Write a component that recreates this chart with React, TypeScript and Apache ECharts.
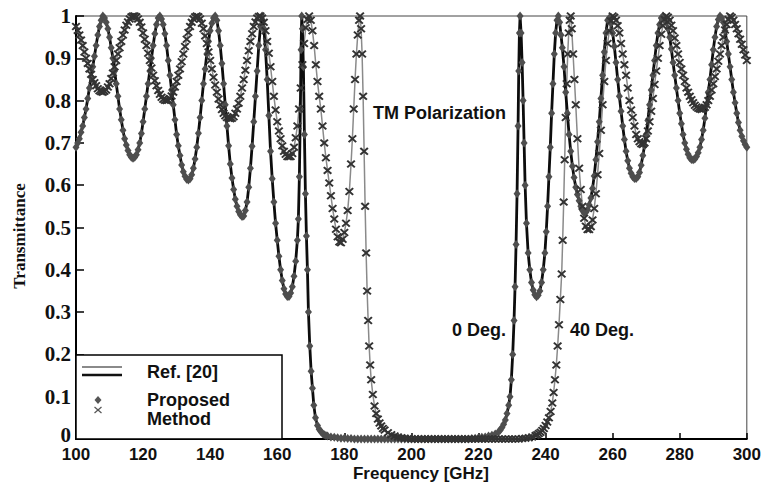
import { useEffect, useRef } from "react";
import * as echarts from "echarts";

// Transmittance vs frequency, TM polarization, normal incidence (0 deg)
const curve0Deg: [number, number][] = [
  [100, 0.69], [100.5, 0.7], [101, 0.71], [101.5, 0.725], [102, 0.74], [102.5, 0.76], [103, 0.78], [103.5, 0.805],
  [104, 0.83], [104.5, 0.855], [105, 0.88], [105.5, 0.905], [106, 0.93], [106.5, 0.955], [107, 0.975], [107.5, 0.99],
  [108, 1.0], [108.5, 0.995], [109, 0.985], [109.5, 0.97], [110, 0.95], [110.5, 0.925], [111, 0.9], [111.5, 0.87],
  [112, 0.84], [112.5, 0.81], [113, 0.78], [113.5, 0.755], [114, 0.73], [114.5, 0.71], [115, 0.695], [115.5, 0.682],
  [116, 0.672], [116.5, 0.666], [117, 0.664], [117.5, 0.666], [118, 0.672], [118.5, 0.684], [119, 0.7], [119.5, 0.722],
  [120, 0.75], [120.5, 0.78], [121, 0.81], [121.5, 0.84], [122, 0.87], [122.5, 0.9], [123, 0.93], [123.5, 0.958],
  [124, 0.98], [124.5, 0.995], [125, 1.0], [125.5, 0.993], [126, 0.98], [126.5, 0.958], [127, 0.93], [127.5, 0.895],
  [128, 0.86], [128.5, 0.825], [129, 0.79], [129.5, 0.755], [130, 0.72], [130.5, 0.693], [131, 0.67], [131.5, 0.648],
  [132, 0.632], [132.5, 0.621], [133, 0.614], [133.5, 0.612], [134, 0.615], [134.5, 0.625], [135, 0.64], [135.5, 0.662],
  [136, 0.69], [136.5, 0.723], [137, 0.76], [137.5, 0.8], [138, 0.84], [138.5, 0.875], [139, 0.91], [139.5, 0.94],
  [140, 0.965], [140.5, 0.983], [141, 0.995], [141.5, 1.0], [142, 0.99], [142.5, 0.965], [143, 0.93], [143.5, 0.888],
  [144, 0.84], [144.5, 0.79], [145, 0.74], [145.5, 0.693], [146, 0.65], [146.5, 0.617], [147, 0.59], [147.5, 0.567],
  [148, 0.55], [148.5, 0.538], [149, 0.53], [149.5, 0.526], [150, 0.527], [150.5, 0.54], [151, 0.56], [151.5, 0.595],
  [152, 0.64], [152.5, 0.692], [153, 0.75], [153.5, 0.81], [154, 0.87], [154.5, 0.93], [155, 0.975], [155.5, 1.0],
  [156, 0.97], [156.5, 0.92], [157, 0.85], [157.5, 0.765], [158, 0.68], [158.5, 0.615], [159, 0.56], [159.5, 0.51],
  [160, 0.47], [160.5, 0.432], [161, 0.4], [161.5, 0.375], [162, 0.355], [162.5, 0.343], [163, 0.337], [163.5, 0.337],
  [164, 0.345], [164.5, 0.36], [165, 0.385], [165.5, 0.42], [166, 0.47], [166.3, 0.52], [166.6, 0.62], [166.9, 0.78],
  [167.1, 0.92], [167.3, 1.0], [167.5, 0.97], [167.8, 0.88], [168.1, 0.72], [168.4, 0.58], [168.7, 0.48], [169, 0.4],
  [169.3, 0.3], [169.7, 0.22], [170.1, 0.16], [170.5, 0.12], [170.9, 0.08], [171.4, 0.05], [172, 0.032], [172.5, 0.023],
  [173, 0.018], [173.5, 0.013], [174, 0.01], [174.5, 0.008], [175, 0.007], [176, 0.005], [177, 0.004], [178, 0.003],
  [179, 0.002], [180, 0.002], [181, 0.001], [182, 0.001], [183, 0], [184, 0], [185, 0], [186, 0],
  [187, 0], [188, 0], [189, 0], [190, 0], [191, 0], [192, 0], [193, 0], [194, 0],
  [195, 0], [196, 0], [197, 0], [198, 0], [199, 0], [200, 0], [201, 0], [202, 0],
  [203, 0], [204, 0], [205, 0], [206, 0], [207, 0], [208, 0], [209, 0], [210, 0],
  [211, 0], [212, 0], [213, 0], [214, 0], [215, 0], [216, 0], [217, 0], [218, 0.001],
  [219, 0.002], [220, 0.003], [221, 0.004], [222, 0.005], [223, 0.007], [224, 0.009], [225, 0.012], [226, 0.017],
  [226.5, 0.021], [227, 0.027], [227.5, 0.035], [228, 0.045], [228.5, 0.06], [229, 0.08], [229.4, 0.1], [229.8, 0.14],
  [230.2, 0.2], [230.6, 0.28], [230.9, 0.36], [231.2, 0.46], [231.5, 0.58], [231.8, 0.74], [232, 0.87], [232.2, 0.96],
  [232.4, 1.0], [232.7, 0.96], [233, 0.89], [233.3, 0.8], [233.6, 0.7], [233.9, 0.6], [234.3, 0.51], [234.8, 0.44],
  [235.3, 0.4], [235.8, 0.37], [236.3, 0.352], [236.8, 0.341], [237.3, 0.336], [237.8, 0.34], [238.3, 0.35], [238.8, 0.37],
  [239.3, 0.4], [239.8, 0.44], [240.2, 0.49], [240.6, 0.55], [241, 0.62], [241.4, 0.69], [241.8, 0.77], [242.2, 0.84],
  [242.6, 0.91], [243, 0.96], [243.4, 0.99], [243.8, 1.0], [244.2, 0.985], [244.6, 0.955], [245, 0.925], [245.5, 0.88],
  [246, 0.82], [246.5, 0.77], [247, 0.72], [247.5, 0.68], [248, 0.645], [248.5, 0.618], [249, 0.595], [249.5, 0.578],
  [250, 0.563], [250.5, 0.55], [251, 0.54], [251.5, 0.535], [252, 0.536], [252.5, 0.542], [253, 0.553], [253.5, 0.57],
  [254, 0.592], [254.5, 0.622], [255, 0.66], [255.5, 0.703], [256, 0.75], [256.5, 0.805], [257, 0.86], [257.5, 0.915],
  [258, 0.96], [258.5, 0.99], [259, 0.995], [259.5, 0.983], [260, 0.96], [260.5, 0.928], [261, 0.89], [261.5, 0.85],
  [262, 0.81], [262.5, 0.775], [263, 0.74], [263.5, 0.708], [264, 0.68], [264.5, 0.658], [265, 0.64], [265.5, 0.628],
  [266, 0.62], [266.5, 0.616], [267, 0.616], [267.5, 0.62], [268, 0.63], [268.5, 0.647], [269, 0.67], [269.5, 0.693],
  [270, 0.72], [270.5, 0.753], [271, 0.79], [271.5, 0.825], [272, 0.86], [272.5, 0.895], [273, 0.93], [273.5, 0.96],
  [274, 0.98], [274.5, 0.995], [275, 1.0], [275.5, 0.995], [276, 0.985], [276.5, 0.97], [277, 0.95], [277.5, 0.922],
  [278, 0.89], [278.5, 0.86], [279, 0.83], [279.5, 0.8], [280, 0.77], [280.5, 0.745], [281, 0.72], [281.5, 0.7],
  [282, 0.685], [282.5, 0.673], [283, 0.665], [283.5, 0.661], [284, 0.66], [284.5, 0.662], [285, 0.668], [285.5, 0.677],
  [286, 0.69], [286.5, 0.708], [287, 0.73], [287.5, 0.758], [288, 0.79], [288.5, 0.82], [289, 0.85], [289.5, 0.885],
  [290, 0.92], [290.5, 0.95], [291, 0.975], [291.5, 0.992], [292, 1.0], [292.5, 0.995], [293, 0.985], [293.5, 0.965],
  [294, 0.94], [294.5, 0.91], [295, 0.88], [295.5, 0.85], [296, 0.82], [296.5, 0.795], [297, 0.77], [297.5, 0.748],
  [298, 0.73], [298.5, 0.716], [299, 0.705], [299.5, 0.696], [300, 0.69],
];

// Transmittance vs frequency, TM polarization, 40 deg incidence
const curve40Deg: [number, number][] = [
  [100, 0.975], [100.5, 0.966], [101, 0.955], [101.5, 0.943], [102, 0.93], [102.5, 0.915], [103, 0.9], [103.5, 0.888],
  [104, 0.875], [104.5, 0.862], [105, 0.85], [105.5, 0.842], [106, 0.835], [106.5, 0.828], [107, 0.823], [107.5, 0.821],
  [108, 0.82], [108.5, 0.822], [109, 0.825], [109.5, 0.832], [110, 0.84], [110.5, 0.852], [111, 0.865], [111.5, 0.88],
  [112, 0.895], [112.5, 0.91], [113, 0.925], [113.5, 0.94], [114, 0.955], [114.5, 0.967], [115, 0.978], [115.5, 0.986],
  [116, 0.993], [116.5, 0.998], [117, 1.0], [117.5, 1.0], [118, 0.998], [118.5, 0.993], [119, 0.985], [119.5, 0.974],
  [120, 0.96], [120.5, 0.945], [121, 0.93], [121.5, 0.912], [122, 0.895], [122.5, 0.877], [123, 0.86], [123.5, 0.847],
  [124, 0.835], [124.5, 0.824], [125, 0.815], [125.5, 0.808], [126, 0.803], [126.5, 0.801], [127, 0.8], [127.5, 0.801],
  [128, 0.805], [128.5, 0.811], [129, 0.82], [129.5, 0.832], [130, 0.845], [130.5, 0.86], [131, 0.875], [131.5, 0.892],
  [132, 0.91], [132.5, 0.928], [133, 0.945], [133.5, 0.961], [134, 0.975], [134.5, 0.985], [135, 0.993], [135.5, 0.998],
  [136, 1.0], [136.5, 0.998], [137, 0.993], [137.5, 0.983], [138, 0.97], [138.5, 0.953], [139, 0.935], [139.5, 0.915],
  [140, 0.895], [140.5, 0.875], [141, 0.855], [141.5, 0.837], [142, 0.82], [142.5, 0.804], [143, 0.79], [143.5, 0.779],
  [144, 0.77], [144.5, 0.764], [145, 0.76], [145.5, 0.758], [146, 0.757], [146.5, 0.758], [147, 0.762], [147.5, 0.77],
  [148, 0.78], [148.5, 0.794], [149, 0.81], [149.5, 0.83], [150, 0.85], [150.5, 0.872], [151, 0.895], [151.5, 0.918],
  [152, 0.94], [152.5, 0.958], [153, 0.975], [153.5, 0.986], [154, 0.995], [154.5, 0.999], [155, 1.0], [155.5, 0.995],
  [156, 0.985], [156.5, 0.965], [157, 0.94], [157.5, 0.912], [158, 0.88], [158.5, 0.845], [159, 0.81], [159.5, 0.778],
  [160, 0.75], [160.5, 0.728], [161, 0.71], [161.5, 0.693], [162, 0.68], [162.5, 0.673], [163, 0.668], [163.5, 0.667],
  [164, 0.668], [164.5, 0.675], [165, 0.69], [165.5, 0.712], [166, 0.74], [166.5, 0.78], [167, 0.83], [167.5, 0.885],
  [168, 0.935], [168.5, 0.972], [169, 0.992], [169.5, 1.0], [170, 0.99], [170.5, 0.965], [171, 0.93], [171.5, 0.885],
  [172, 0.845], [172.5, 0.81], [173, 0.78], [173.5, 0.74], [174, 0.7], [174.5, 0.665], [175, 0.635], [175.5, 0.605],
  [176, 0.575], [176.5, 0.545], [177, 0.52], [177.5, 0.496], [178, 0.478], [178.5, 0.466], [179, 0.464], [179.5, 0.472],
  [180, 0.488], [180.5, 0.51], [181, 0.54], [181.5, 0.585], [182, 0.65], [182.4, 0.71], [182.8, 0.78], [183.2, 0.85],
  [183.6, 0.91], [184, 0.955], [184.4, 0.99], [184.7, 1.0], [185, 0.97], [185.3, 0.91], [185.6, 0.81], [185.9, 0.68],
  [186.2, 0.55], [186.5, 0.44], [186.8, 0.35], [187.1, 0.28], [187.4, 0.22], [187.7, 0.175], [188, 0.14], [188.5, 0.105],
  [189, 0.078], [189.5, 0.06], [190, 0.047], [190.5, 0.038], [191, 0.031], [191.5, 0.025], [192, 0.021], [193, 0.015],
  [194, 0.01], [195, 0.007], [196, 0.005], [197, 0.003], [198, 0.002], [199, 0.001], [200, 0], [201, 0],
  [202, 0], [203, 0], [204, 0], [205, 0], [206, 0], [207, 0], [208, 0], [209, 0],
  [210, 0], [211, 0], [212, 0], [213, 0], [214, 0], [215, 0], [216, 0], [217, 0],
  [218, 0], [219, 0], [220, 0], [221, 0], [222, 0], [223, 0], [224, 0], [225, 0],
  [226, 0], [227, 0], [228, 0], [229, 0], [230, 0], [231, 0], [232, 0], [233, 0.001],
  [234, 0.002], [235, 0.003], [236, 0.005], [237, 0.008], [237.5, 0.01], [238, 0.013], [238.5, 0.016], [239, 0.02],
  [239.5, 0.025], [240, 0.032], [240.5, 0.04], [241, 0.05], [241.5, 0.065], [242, 0.085], [242.4, 0.11], [242.8, 0.14],
  [243.2, 0.175], [243.6, 0.22], [244, 0.27], [244.4, 0.33], [244.8, 0.39], [245.1, 0.47], [245.4, 0.56], [245.7, 0.66],
  [246, 0.76], [246.3, 0.84], [246.6, 0.91], [246.9, 0.96], [247.2, 0.99], [247.5, 1.0], [247.8, 0.97], [248.2, 0.91],
  [248.6, 0.85], [249, 0.79], [249.5, 0.71], [250, 0.64], [250.5, 0.59], [251, 0.55], [251.5, 0.522], [252, 0.503],
  [252.5, 0.495], [253, 0.495], [253.5, 0.502], [254, 0.518], [254.5, 0.545], [255, 0.58], [255.5, 0.625], [256, 0.675],
  [256.5, 0.73], [257, 0.79], [257.5, 0.845], [258, 0.895], [258.5, 0.935], [259, 0.965], [259.5, 0.988], [260, 1.0],
  [260.5, 0.997], [261, 0.99], [261.5, 0.977], [262, 0.96], [262.5, 0.935], [263, 0.91], [263.5, 0.885], [264, 0.86],
  [264.5, 0.83], [265, 0.8], [265.5, 0.778], [266, 0.76], [266.5, 0.74], [267, 0.72], [267.5, 0.71], [268, 0.703],
  [268.5, 0.698], [269, 0.696], [269.5, 0.7], [270, 0.71], [270.5, 0.728], [271, 0.75], [271.5, 0.775], [272, 0.805],
  [272.5, 0.838], [273, 0.87], [273.5, 0.9], [274, 0.93], [274.5, 0.957], [275, 0.977], [275.5, 0.992], [276, 1.0],
  [276.5, 0.997], [277, 0.99], [277.5, 0.978], [278, 0.965], [278.5, 0.948], [279, 0.93], [279.5, 0.91], [280, 0.89],
  [280.5, 0.875], [281, 0.86], [281.5, 0.845], [282, 0.83], [282.5, 0.82], [283, 0.81], [283.5, 0.802], [284, 0.795],
  [284.5, 0.789], [285, 0.785], [285.5, 0.782], [286, 0.78], [286.5, 0.779], [287, 0.78], [287.5, 0.784], [288, 0.79],
  [288.5, 0.8], [289, 0.81], [289.5, 0.825], [290, 0.84], [290.5, 0.857], [291, 0.875], [291.5, 0.893], [292, 0.91],
  [292.5, 0.93], [293, 0.95], [293.5, 0.967], [294, 0.98], [294.5, 0.992], [295, 1.0], [295.5, 0.997], [296, 0.99],
  [296.5, 0.98], [297, 0.97], [297.5, 0.958], [298, 0.945], [298.5, 0.933], [299, 0.92], [299.5, 0.908], [300, 0.895],
];

const freqRange = [100, 300];
const freqStep = 20;
const transRange = [0, 1];
const transStep = 0.1;

const legendRefLabel = "Ref. [20]";
const legendProposedLabel = ["Proposed", "Method"];
const annotations = [
  { text: "TM Polarization", x: 373, y: 113 },
  { text: "0 Deg.", x: 452, y: 330 },
  { text: "40 Deg.", x: 570, y: 330 },
];

// filled "x" outline so the cross marker reads as a stroked glyph
const CROSS = "path://M0,1.6L1.6,0L5,3.4L8.4,0L10,1.6L6.6,5L10,8.4L8.4,10L5,6.6L1.6,10L0,8.4L3.4,5Z";
const SANS = "'Liberation Sans', Arial, sans-serif";
const SERIF = "'Liberation Serif', 'Times New Roman', serif";

export default function App() {
  const ref = useRef<HTMLDivElement>(null);

  useEffect(() => {
    if (!ref.current) return;
    const chart = echarts.init(ref.current, null, { renderer: "svg" });

    const label = (text: string, x: number, y: number) => ({
      type: "text",
      x,
      y,
      z: 110,
      style: {
        text,
        font: `bold 18px ${SANS}`,
        fill: "#111",
        textAlign: "left",
        textVerticalAlign: "middle",
      },
    });

    chart.setOption({
      animation: false,
      backgroundColor: "#fff",
      grid: {
        left: 76,
        top: 16,
        right: 17,
        bottom: 47,
        show: true,
        borderColor: "#444",
        borderWidth: 1,
        backgroundColor: "transparent",
      },
      xAxis: {
        type: "value",
        min: freqRange[0],
        max: freqRange[1],
        interval: freqStep,
        axisLine: { show: true, lineStyle: { color: "#000", width: 2 } },
        axisTick: { show: true, inside: true, length: 6, lineStyle: { color: "#000", width: 1.5 } },
        axisLabel: {
          fontFamily: SANS,
          fontWeight: "bold",
          fontSize: 17,
          color: "#111",
          margin: 7,
        },
        splitLine: { show: false },
      },
      yAxis: {
        type: "value",
        min: transRange[0],
        max: transRange[1],
        interval: transStep,
        axisLine: { show: true, lineStyle: { color: "#000", width: 2 } },
        axisTick: { show: true, inside: true, length: 8, lineStyle: { color: "#000", width: 1.5 } },
        axisLabel: {
          fontFamily: SERIF,
          fontWeight: "bold",
          fontSize: 21,
          color: "#111",
          margin: 5,
          formatter: (v: number) => {
            const s = String(Math.round(v * 10) / 10);
            return v === 0 ? `{low|${s}}` : s;
          },
          rich: {
            low: {
              fontFamily: SERIF,
              fontWeight: "bold",
              fontSize: 21,
              color: "#111",
              padding: [0, 0, 9, 0],
            },
          },
        },
        splitLine: { show: false },
      },
      series: [
        {
          name: "Ref. 40",
          type: "line",
          data: curve40Deg,
          showSymbol: false,
          lineStyle: { color: "#8a8a8a", width: 1.5 },
          z: 2,
          silent: true,
        },
        {
          name: "Ref. 0",
          type: "line",
          data: curve0Deg,
          showSymbol: false,
          lineStyle: { color: "#0d0d0d", width: 2.8 },
          z: 3,
          silent: true,
        },
        {
          name: "Proposed 0",
          type: "scatter",
          data: curve0Deg,
          symbol: "diamond",
          symbolSize: [7, 9],
          itemStyle: { color: "#4e4e4e", opacity: 1 },
          z: 4,
          silent: true,
        },
        {
          name: "Proposed 40",
          type: "scatter",
          data: curve40Deg,
          symbol: CROSS,
          symbolSize: [9, 8],
          itemStyle: { color: "#333", opacity: 1 },
          z: 5,
          silent: true,
        },
      ],
      graphic: [
        {
          type: "rect",
          z: 100,
          shape: { x: 76, y: 355, width: 206, height: 84 },
          style: { fill: "#fff", stroke: "#000", lineWidth: 1.5 },
        },
        {
          type: "line",
          z: 101,
          shape: { x1: 82, y1: 367, x2: 122, y2: 367 },
          style: { stroke: "#8a8a8a", lineWidth: 2 },
        },
        {
          type: "line",
          z: 101,
          shape: { x1: 82, y1: 375, x2: 122, y2: 375 },
          style: { stroke: "#111", lineWidth: 2.5 },
        },
        {
          type: "polygon",
          z: 101,
          shape: { points: [[98, 396], [101.5, 400], [98, 404], [94.5, 400]] },
          style: { fill: "#555" },
        },
        {
          type: "line",
          z: 101,
          shape: { x1: 94.5, y1: 407, x2: 101.5, y2: 413 },
          style: { stroke: "#555", lineWidth: 1.2 },
        },
        {
          type: "line",
          z: 101,
          shape: { x1: 101.5, y1: 407, x2: 94.5, y2: 413 },
          style: { stroke: "#555", lineWidth: 1.2 },
        },
        label(legendRefLabel, 147, 372),
        label(legendProposedLabel[0], 147, 400),
        label(legendProposedLabel[1], 147, 419),
        ...annotations.map((a) => label(a.text, a.x, a.y)),
        {
          type: "text",
          x: 421,
          y: 473,
          z: 110,
          style: {
            text: "Frequency [GHz]",
            font: `bold 17px ${SANS}`,
            fill: "#111",
            textAlign: "center",
            textVerticalAlign: "middle",
          },
        },
        {
          type: "text",
          x: 19,
          y: 236,
          rotation: Math.PI / 2,
          z: 110,
          style: {
            text: "Transmittance",
            font: `bold 17px ${SERIF}`,
            fill: "#111",
            textAlign: "center",
            textVerticalAlign: "middle",
          },
        },
      ],
    });

    return () => chart.dispose();
  }, []);

  return (
    <div
      ref={ref}
      style={{ position: "absolute", left: 0, top: 0, width: 764, height: 486, background: "#fff" }}
    />
  );
}
